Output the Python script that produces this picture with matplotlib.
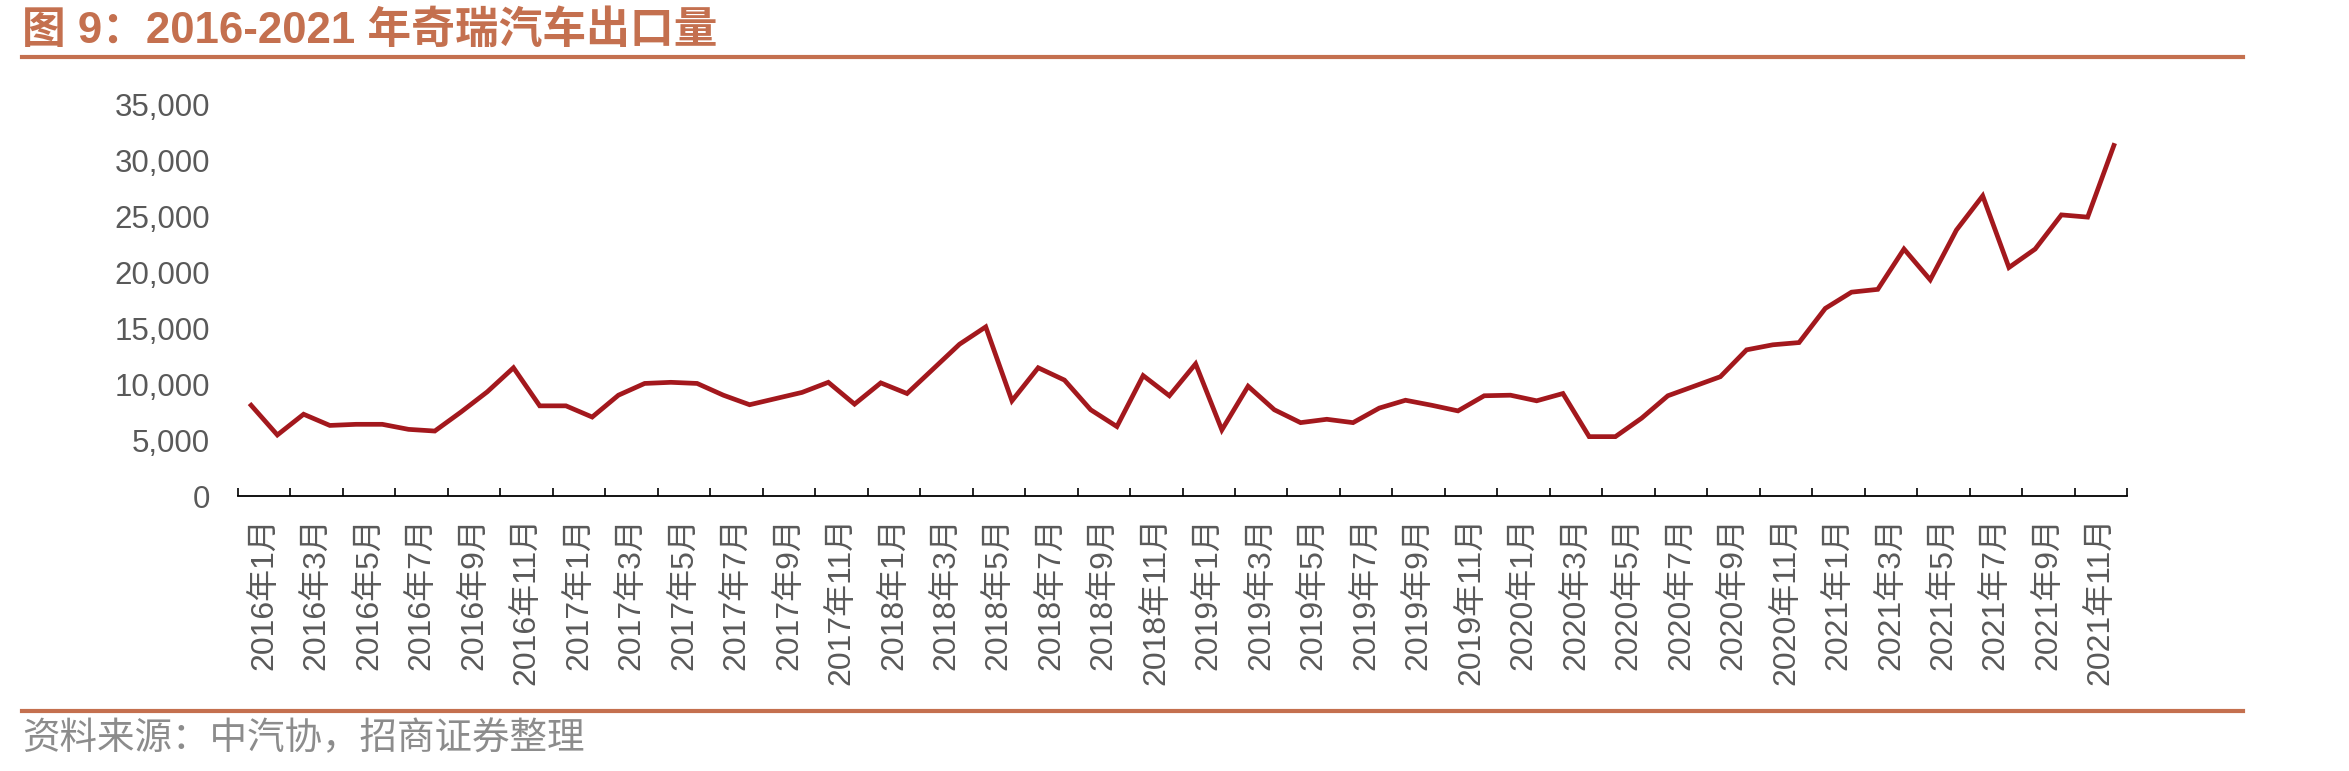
import matplotlib
matplotlib.use("Agg")
import matplotlib.pyplot as plt
from matplotlib.lines import Line2D
from matplotlib.ticker import FuncFormatter, FixedLocator
import numpy as np

years = [2016, 2017, 2018, 2019, 2020, 2021]
months = [f"{y}年{m}月" for y in years for m in range(1, 13)]

exports = [
    8100, 5450, 7300, 6300, 6400, 6400, 5950, 5800, 7500, 9300, 11450, 8050,   # 2016
    8050, 7050, 9000, 10050, 10150, 10050, 9000, 8150, 8700, 9250, 10150, 8200,  # 2017
    10100, 9150, 11350, 13550, 15100, 8500, 11450, 10350, 7700, 6200, 10750, 8950,  # 2018
    11800, 5900, 9800, 7700, 6550, 6850, 6550, 7850, 8550, 8100, 7600, 8950,  # 2019
    9000, 8500, 9150, 5300, 5300, 6950, 8950, 9800, 10650, 13050, 13500, 13700,  # 2020
    16750, 18200, 18450, 22050, 19300, 23750, 26800, 20400, 22050, 25100, 24900, 31300,  # 2021
]

tick_labels = months[::2]

title = "图 9：2016-2021 年奇瑞汽车出口量"
source = "资料来源：中汽协，招商证券整理"

W, H = 2349, 771
fig = plt.figure(figsize=(W / 100, H / 100), dpi=100)
fam = ["Liberation Sans", "Noto Sans CJK SC", "DejaVu Sans"]
plt.rcParams["font.family"] = fam

accent = "#C4704F"
line_color = "#A3181D"
text_gray = "#595959"

ax = fig.add_axes([238 / W, 1 - 496 / H, (2127 - 238) / W, (496 - 104) / H])
x = np.arange(len(exports))
ax.plot(x, exports, color=line_color, lw=3.4, solid_joinstyle="miter")

ax.set_xlim(-0.5, len(exports) - 0.5)
ax.set_ylim(0, 35000)
ax.set_yticks(np.arange(0, 35001, 5000))
ax.yaxis.set_major_formatter(FuncFormatter(lambda v, p: f"{int(v):,}"))
ax.tick_params(axis="y", length=0, pad=20, labelsize=22.5, labelcolor=text_gray)

# ticks at boundaries every two months, labels centred between them
ax.xaxis.set_major_locator(FixedLocator(np.arange(-0.5, len(exports), 2)))
ax.xaxis.set_minor_locator(FixedLocator(np.arange(0.5, len(exports), 2)))
ax.set_xticklabels([], minor=False)
ax.set_xticklabels(tick_labels, minor=True, rotation=90, fontsize=23, color=text_gray)
ax.tick_params(axis="x", which="major", direction="in", length=6, width=1.2, color="black")
ax.tick_params(axis="x", which="minor", length=0, pad=15)

for s in ["left", "right", "top"]:
    ax.spines[s].set_visible(False)
ax.spines["bottom"].set_linewidth(1.3)
ax.spines["bottom"].set_color("black")

fig.text(22 / W, 1 - 43 / H, title, fontsize=31.5, fontweight="bold", color=accent,
         ha="left", va="baseline")
fig.add_artist(Line2D([22 / W, 2243 / W], [1 - 57 / H, 1 - 57 / H], color=accent, lw=3.0,
                      transform=fig.transFigure))
fig.add_artist(Line2D([22 / W, 2243 / W], [1 - 711 / H, 1 - 711 / H], color=accent, lw=3.0,
                      transform=fig.transFigure))
fig.text(22 / W, 1 - 739 / H, source, fontsize=27, color="#8C8C8C", ha="left", va="center",
         family=["Noto Sans CJK SC", "DejaVu Sans"], fontweight="light")

fig.savefig("out.png", dpi=100)
